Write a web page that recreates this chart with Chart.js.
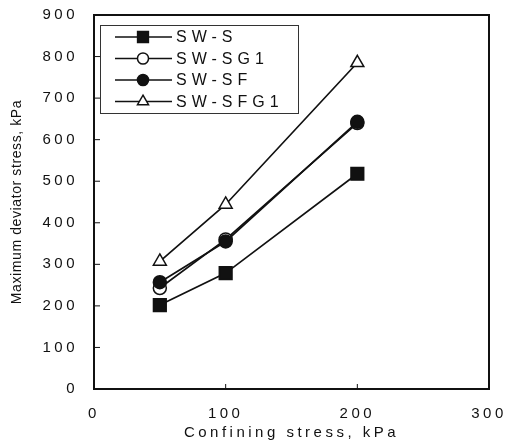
<!DOCTYPE html>
<html>
<head>
<meta charset="utf-8">
<script src="https://cdn.jsdelivr.net/npm/chart.js@4.4.0/dist/chart.umd.min.js"></script>
<style>
    html, body { margin: 0; padding: 0; background: #fff; }
</style>
</head>
<body>
<canvas id="chart" width="505" height="444"></canvas>
<script>
let seriesNames = ['SW-S', 'SW-SG1', 'SW-SF', 'SW-SFG1']
let confining = [50, 100, 200]
let swS = [202, 279, 518]
let swSG1 = [243, 360, 640]
let swSF = [257, 355, 643]
let swSFG1 = [307, 444, 785]
let xRange = [0, 300]
let yRange = [0, 900]
let tickStep = 100

let fontName = '"Liberation Sans", Arial, sans-serif'
let ink = '#111'

function toPoints(values) {
    return confining.map((x, i) => ({ x: x, y: values[i] }))
}

function makeSet(name, values, style, radius, fill, order) {
    return {
        label: name,
        data: toPoints(values),
        borderColor: ink,
        borderWidth: 1.7,
        pointStyle: style,
        pointRadius: radius,
        pointHoverRadius: radius,
        pointBackgroundColor: fill,
        pointBorderColor: ink,
        pointBorderWidth: 1.5,
        order: order,
        tension: 0
    }
}

// letter spaced text like the scanned figure
let spacingPlugin = {
    id: 'spacing',
    beforeLayout(chart) { chart.ctx.letterSpacing = '3.5px' },
    beforeDraw(chart) { chart.ctx.letterSpacing = '3.5px' }
}

let framePlugin = {
    id: 'frame',
    beforeDatasetsDraw(chart) {
        let ctx = chart.ctx
        let a = chart.chartArea
        ctx.save()
        ctx.strokeStyle = ink
        ctx.lineWidth = 2
        ctx.strokeRect(a.left, a.top, a.right - a.left, a.bottom - a.top)
        ctx.lineWidth = 1
        ctx.beginPath()
        chart.scales.y.ticks.forEach(t => {
            let py = chart.scales.y.getPixelForValue(t.value)
            ctx.moveTo(a.left, py)
            ctx.lineTo(a.left + 6, py)
        })
        chart.scales.x.ticks.forEach(t => {
            let px = chart.scales.x.getPixelForValue(t.value)
            ctx.moveTo(px, a.bottom)
            ctx.lineTo(px, a.bottom - 5)
        })
        ctx.stroke()
        ctx.restore()
    }
}

let yTitlePlugin = {
    id: 'yTitle',
    afterDraw(chart) {
        let ctx = chart.ctx
        let a = chart.chartArea
        ctx.save()
        ctx.letterSpacing = '0.6px'
        ctx.font = '14px ' + fontName
        ctx.fillStyle = ink
        ctx.textAlign = 'center'
        ctx.textBaseline = 'middle'
        ctx.translate(17, (a.top + a.bottom) / 2)
        ctx.rotate(-Math.PI / 2)
        ctx.fillText('Maximum deviator stress, kPa', 0, 0)
        ctx.restore()
    }
}

let legendPlugin = {
    id: 'boxLegend',
    afterDraw(chart) {
        let ctx = chart.ctx
        ctx.save()
        ctx.strokeStyle = '#333'
        ctx.lineWidth = 1
        ctx.strokeRect(100.5, 25.5, 198, 88)
        ctx.font = '16px ' + fontName
        ctx.letterSpacing = '5px'
        ctx.textBaseline = 'middle'
        chart.data.datasets.forEach((ds, i) => {
            let y = 37 + i * 21.5
            ctx.strokeStyle = ink
            ctx.lineWidth = ds.borderWidth
            ctx.beginPath()
            ctx.moveTo(115, y)
            ctx.lineTo(172, y)
            ctx.stroke()
            ctx.fillStyle = ds.pointBackgroundColor
            ctx.lineWidth = ds.pointBorderWidth
            Chart.helpers.drawPoint(ctx, { pointStyle: ds.pointStyle, radius: ds.pointRadius * 0.85, borderWidth: ds.pointBorderWidth, rotation: 0 }, 143, y)
            ctx.fillStyle = ink
            ctx.fillText(ds.label, 176, y + 1)
        })
        ctx.restore()
    }
}

new Chart(document.getElementById('chart'), {
    type: 'line',
    data: {
        datasets: [
            makeSet(seriesNames[0], swS, 'rect', 9, ink, 0),
            makeSet(seriesNames[1], swSG1, 'circle', 6.5, '#fff', 1),
            makeSet(seriesNames[2], swSF, 'circle', 6.5, ink, 0),
            makeSet(seriesNames[3], swSFG1, 'triangle', 7.5, '#fff', 0)
        ]
    },
    options: {
        responsive: false,
        animation: false,
        devicePixelRatio: 1,
        layout: { padding: { top: 15, right: 16, left: 0, bottom: 0 } },
        plugins: {
            legend: { display: false },
            tooltip: { enabled: false }
        },
        scales: {
            x: {
                type: 'linear',
                min: xRange[0],
                max: xRange[1],
                grid: { display: false, drawTicks: false, tickLength: 0 },
                border: { display: false },
                ticks: { stepSize: tickStep, color: ink, padding: 16, font: { family: fontName, size: 15 } },
                title: {
                    display: true,
                    text: 'Confining stress, kPa',
                    color: ink,
                    padding: { top: 0, bottom: 2 },
                    font: { family: fontName, size: 15 }
                },
                afterFit(scale) {
                    scale.height = 55
                    scale.paddingLeft = 0
                    scale.paddingRight = 0
                }
            },
            y: {
                min: yRange[0],
                max: yRange[1],
                grid: { display: false, drawTicks: false, tickLength: 0 },
                border: { display: false },
                ticks: { stepSize: tickStep, color: ink, padding: 16, font: { family: fontName, size: 15 } },
                afterFit(scale) {
                    scale.width = 94
                    scale.paddingTop = 0
                    scale.paddingBottom = 0
                }
            }
        }
    },
    plugins: [spacingPlugin, framePlugin, yTitlePlugin, legendPlugin]
})
</script>
</body>
</html>
